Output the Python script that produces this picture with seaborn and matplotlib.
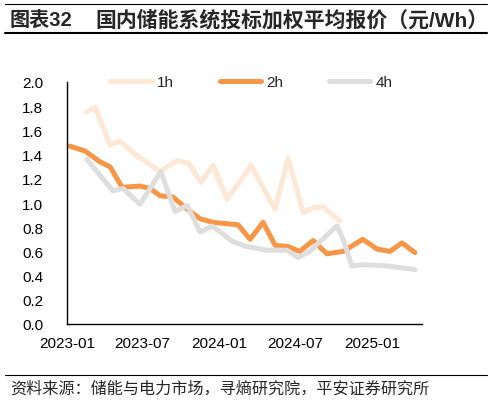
import pandas as pd
import numpy as np
import matplotlib
matplotlib.use('Agg')
import matplotlib.pyplot as plt
import matplotlib.dates as mdates
from matplotlib.lines import Line2D
import seaborn as sns

# values (元/Wh)
dates_1h = ['2023-02-16', '2023-03-09', '2023-04-14', '2023-05-08', '2023-06-18', '2023-08-12',
            '2023-09-22', '2023-10-20', '2023-11-18', '2023-12-17', '2024-01-20', '2024-03-17',
            '2024-05-14', '2024-06-14', '2024-07-20', '2024-08-13', '2024-09-06', '2024-10-16']
vals_1h = [1.75, 1.79, 1.48, 1.51, 1.39, 1.26,
           1.35, 1.33, 1.17, 1.31, 1.03, 1.31,
           0.95, 1.37, 0.92, 0.96, 0.97, 0.85]

dates_2h = ['2023-01-08', '2023-02-13', '2023-03-21', '2023-04-14', '2023-05-13', '2023-06-25',
            '2023-07-19', '2023-08-12', '2023-09-12', '2023-10-16', '2023-11-16', '2023-12-17',
            '2024-02-15', '2024-03-15', '2024-04-15', '2024-05-14', '2024-06-14', '2024-07-12',
            '2024-08-13', '2024-09-15', '2024-10-24', '2024-12-10', '2025-01-13', '2025-02-13',
            '2025-03-14', '2025-04-14']
vals_2h = [1.47, 1.43, 1.34, 1.30, 1.13, 1.14,
           1.12, 1.06, 1.05, 0.95, 0.87, 0.84,
           0.82, 0.70, 0.84, 0.65, 0.64, 0.60,
           0.69, 0.58, 0.60, 0.70, 0.62, 0.60,
           0.67, 0.59]

dates_4h = ['2023-02-18', '2023-04-21', '2023-05-15', '2023-06-25', '2023-08-14', '2023-09-17',
            '2023-10-16', '2023-11-16', '2023-12-15', '2024-02-03', '2024-03-07', '2024-04-24',
            '2024-06-11', '2024-07-08', '2024-08-05', '2024-08-29', '2024-10-09', '2024-10-24',
            '2024-11-14', '2024-12-10', '2025-02-06', '2025-04-14']
vals_4h = [1.36, 1.10, 1.12, 0.99, 1.26, 0.93,
           0.98, 0.76, 0.81, 0.68, 0.64, 0.61,
           0.61, 0.55, 0.60, 0.68, 0.81, 0.70,
           0.48, 0.49, 0.48, 0.45]

series_names = ['1h', '2h', '4h']
colors = ['#FDE7D5', '#F79646', '#DEDEDE']

x_ticks = ['2023-01-01', '2023-07-01', '2024-01-01', '2024-07-01', '2025-01-01']
title_no = '图表32'
title_txt = '国内储能系统投标加权平均报价（元/Wh）'
source_txt = '资料来源：储能与电力市场，寻熵研究院，平安证券研究所'


def make_df():
    parts = []
    for name, d, v in zip(series_names, [dates_1h, dates_2h, dates_4h], [vals_1h, vals_2h, vals_4h]):
        parts.append(pd.DataFrame({'date': pd.to_datetime(d), 'price': v, 'type': name}))
    return pd.concat(parts, ignore_index=True)


def main():
    sns.set_theme(style='white')
    plt.rcParams['font.family'] = ['Liberation Sans', 'Noto Sans CJK SC']
    plt.rcParams['axes.unicode_minus'] = False

    df = make_df()

    fig = plt.figure(figsize=(4.95, 4.02), dpi=100)
    ax = fig.add_axes([67 / 495, 1 - 325 / 402, 355 / 495, 242 / 402])

    for name, c in zip(series_names, colors):
        sub = df[df['type'] == name]
        sns.lineplot(data=sub, x='date', y='price', ax=ax, color=c, linewidth=3.6,
                     solid_joinstyle='round', solid_capstyle='round', legend=False)

    ax.set_xlim(pd.Timestamp('2023-01-01'), pd.Timestamp('2025-05-01'))
    ax.set_ylim(0, 2.0)
    ax.set_yticks(np.arange(0, 2.01, 0.2))
    ax.yaxis.set_major_formatter(matplotlib.ticker.FormatStrFormatter('%.1f'))
    ax.set_xticks(pd.to_datetime(x_ticks))
    ax.xaxis.set_major_formatter(mdates.DateFormatter('%Y-%m'))
    ax.set_xlabel('')
    ax.set_ylabel('')

    for s in ['top', 'right']:
        ax.spines[s].set_visible(False)
    for s in ['left', 'bottom']:
        ax.spines[s].set_color('black')
        ax.spines[s].set_linewidth(1.0)
    ax.tick_params(axis='both', direction='in', length=4, width=1, color='black',
                   labelsize=11, labelcolor='black')
    ax.tick_params(axis='y', pad=17)
    ax.tick_params(axis='x', pad=9)
    ax.set_xticks([], minor=True)

    handles = [Line2D([0], [0], color=c, lw=3.6, solid_capstyle='round') for c in colors]
    ax.legend(handles, series_names, loc='center', bbox_to_anchor=(0.52, 1.0), ncol=3,
              frameon=False, fontsize=11, handlelength=2.7, handletextpad=0.35,
              columnspacing=3.0)

    # header / footer
    fig.add_artist(Line2D([5 / 495, 487 / 495], [1 - 5 / 402] * 2, color='black', lw=0.8))
    fig.add_artist(Line2D([5 / 495, 487 / 495], [1 - 34 / 402] * 2, color='black', lw=1.5))
    fig.add_artist(Line2D([5 / 495, 487 / 495], [1 - 376 / 402] * 2, color='black', lw=0.8))
    fig.text(10 / 495, 1 - 20 / 402, title_no, fontsize=14.5, fontweight='bold', va='center')
    fig.text(95 / 495, 1 - 20 / 402, title_txt, fontsize=15, fontweight='bold', va='center')
    fig.text(10 / 495, 1 - 389 / 402, source_txt, fontsize=11.6, style='italic', va='center')

    fig.savefig('out.png', dpi=100)


if __name__ == '__main__':
    main()
